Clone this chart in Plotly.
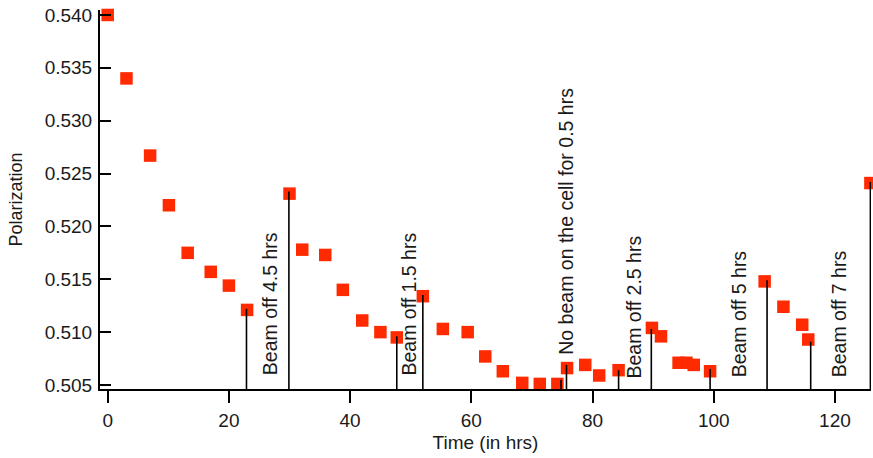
import plotly.graph_objects as go

# Measured data (time in hrs, polarization)
time = [0.0, 3.1, 7.0, 10.1, 13.2, 17.0, 20.0, 23.0, 30.0, 32.1, 35.9, 38.8,
        42.0, 45.0, 47.7, 52.0, 55.3, 59.4, 62.3, 65.2, 68.4, 71.3, 74.2, 75.8,
        78.8, 81.1, 84.3, 89.8, 91.3, 94.2, 95.5, 96.7, 99.4, 108.4, 111.5,
        114.6, 115.6, 125.85]
polarization = [0.5400, 0.5340, 0.5267, 0.5220, 0.5175, 0.5157, 0.5144, 0.5121,
                0.5231, 0.5178, 0.5173, 0.5140, 0.5111, 0.5100, 0.5095, 0.5134,
                0.5103, 0.5100, 0.5077, 0.5063, 0.5052, 0.5051, 0.5051, 0.5066,
                0.5069, 0.5059, 0.5064, 0.5104, 0.5096, 0.5071, 0.5071, 0.5069,
                0.5063, 0.5148, 0.5124, 0.5107, 0.5093, 0.5241]

# Vertical marker lines (beam off start / end)
stem_time = [22.9, 29.9, 47.7, 52.0, 74.8, 75.7, 84.3, 89.7, 99.4, 108.8, 116.0, 125.85]
stem_top = [0.5122, 0.5233, 0.5096, 0.5135, 0.5055, 0.5069, 0.5064, 0.5103,
            0.5065, 0.5149, 0.5091, 0.5242]

# Labels
label_text = ["Beam off 4.5 hrs", "Beam off 1.5 hrs", "No beam on the cell for 0.5 hrs",
              "Beam off 2.5 hrs", "Beam off 5 hrs", "Beam off 7 hrs"]
label_x = [26.8, 49.8, 75.6, 86.9, 104.2, 120.7]
label_y = [0.5058, 0.5058, 0.5078, 0.5055, 0.5056, 0.5056]

y_tick_vals = [0.505, 0.510, 0.515, 0.520, 0.525, 0.530, 0.535, 0.540]
x_tick_vals = [0, 20, 40, 60, 80, 100, 120]

x_range = [-1.27, 125.95]
y_range = [0.50462, 0.54047]

FONT = "Liberation Sans, Arial, sans-serif"

fig = go.Figure()

fig.add_trace(go.Scatter(
    x=time, y=polarization, mode="markers",
    marker=dict(symbol="square", size=12.5, color="#ff2a00", line=dict(width=0)),
    showlegend=False, cliponaxis=False,
))

sx, sy = [], []
for t, top in zip(stem_time, stem_top):
    sx += [t, t, None]
    sy += [y_range[0], top, None]

fig.add_trace(go.Scatter(
    x=sx, y=sy, mode="lines",
    line=dict(color="black", width=1.6),
    hoverinfo="skip", showlegend=False, cliponaxis=False,
))

for txt, lx, ly in zip(label_text, label_x, label_y):
    fig.add_annotation(
        x=lx, y=ly, xref="x", yref="y", text=txt, showarrow=False,
        textangle=-90, xanchor="center", yanchor="bottom",
        font=dict(family=FONT, size=19.5, color="#1a1a1a"),
        borderpad=0,
    )

fig.update_layout(
    width=873, height=458, autosize=False,
    margin=dict(l=100, r=2, t=10, b=69),
    paper_bgcolor="white", plot_bgcolor="white",
    font=dict(family=FONT, size=19, color="#1a1a1a"),
    showlegend=False,
)

fig.update_xaxes(
    range=x_range, tickvals=x_tick_vals, automargin=False,
    showline=True, linecolor="black", linewidth=2,
    ticks="outside", ticklen=12, tickwidth=2, tickcolor="black",
    ticklabelstandoff=1,
    showgrid=False, zeroline=False,
    title=dict(text="Time (in hrs)", font=dict(size=19), standoff=6),
)

fig.update_yaxes(
    range=y_range, tickvals=y_tick_vals, tickformat=".3f", automargin=False,
    showline=True, linecolor="black", linewidth=2,
    ticks="inside", ticklen=11, tickwidth=2, tickcolor="black",
    ticklabelstandoff=2,
    showgrid=False, zeroline=False,
    title=dict(text="Polarization", font=dict(size=18), standoff=17),
)

# Remove the default page margin / scrollbars so the figure fills the window.
fig.write_html(
    "out.html",
    config={"displayModeBar": False},
    post_script="document.documentElement.style.overflow='hidden';"
                "document.body.style.margin='0';",
)
